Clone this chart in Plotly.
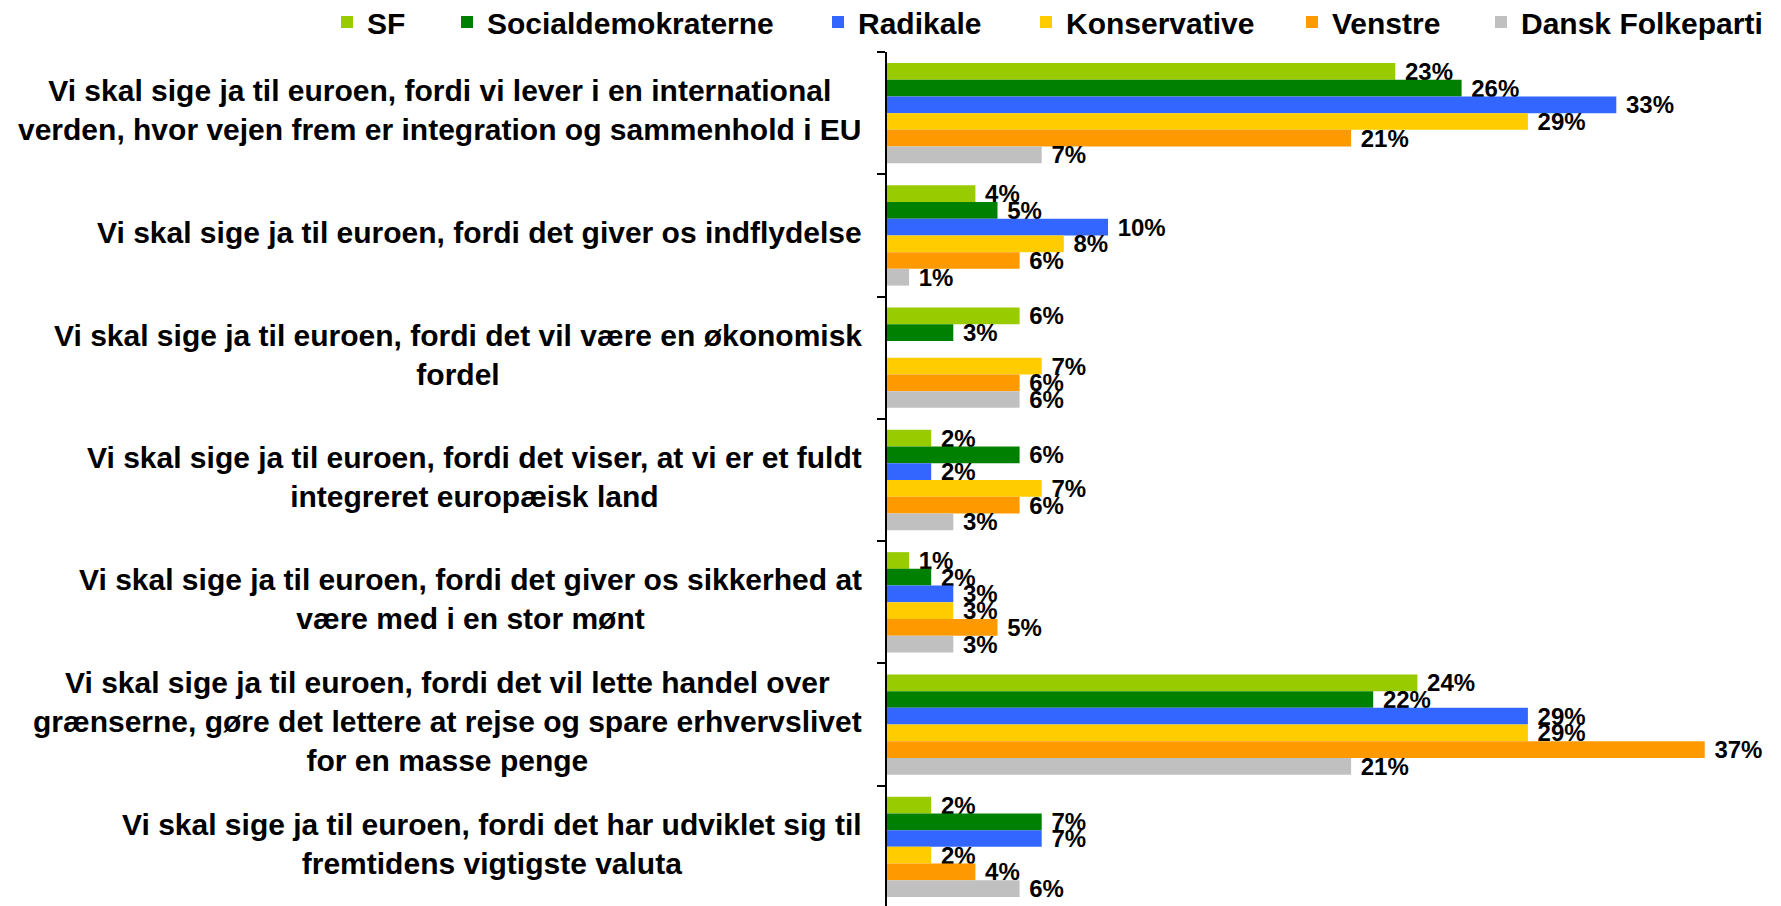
import plotly.graph_objects as go

categories = [
    "Vi skal sige ja til euroen, fordi vi lever i en international<br>verden, hvor vejen frem er integration og sammenhold i EU",
    "Vi skal sige ja til euroen, fordi det giver os indflydelse",
    "Vi skal sige ja til euroen, fordi det vil være en økonomisk<br>fordel",
    "Vi skal sige ja til euroen, fordi det viser, at vi er et fuldt<br>integreret europæisk land",
    "Vi skal sige ja til euroen, fordi det giver os sikkerhed at<br>være med i en stor mønt",
    "Vi skal sige ja til euroen, fordi det vil lette handel over<br>grænserne, gøre det lettere at rejse og spare erhvervslivet<br>for en masse penge",
    "Vi skal sige ja til euroen, fordi det har udviklet sig til<br>fremtidens vigtigste valuta",
]

series_names = ["SF", "Socialdemokraterne", "Radikale", "Konservative", "Venstre", "Dansk Folkeparti"]

sf = [23, 4, 6, 2, 1, 24, 2]
socialdemokraterne = [26, 5, 3, 6, 2, 22, 7]
radikale = [33, 10, None, 2, 3, 29, 7]
konservative = [29, 8, 7, 7, 3, 29, 2]
venstre = [21, 6, 6, 6, 5, 37, 4]
dansk_folkeparti = [7, 1, 6, 3, 3, 21, 6]

series_values = [sf, socialdemokraterne, radikale, konservative, venstre, dansk_folkeparti]
colors = ["#99CC00", "#008000", "#3366FF", "#FFCC00", "#FF9900", "#C0C0C0"]

# page body has an 8px margin, so figure coords = page coords - 8
OFF = 8
W, H = 1781, 906
ML, MR, MT, MB = 887 - OFF, 2, 52 - OFF, 6
plot_w = W - ML - MR
plot_h = H - MT - MB

FONT = "Liberation Sans, Arial, Helvetica, sans-serif"

# legend symbol centres (page px) and vertical centre
legend_centers = [352, 472, 843, 1051, 1317, 1506]
legend_y_px = 22

fig = go.Figure()
for i, (name, vals, col) in enumerate(zip(series_names, series_values, colors)):
    fig.add_trace(go.Bar(
        y=categories, x=vals, name=name, orientation="h",
        marker=dict(color=col, line=dict(width=0)),
        texttemplate=" %{x}%", textposition="outside",
        textfont=dict(family=FONT, size=24, color="black", weight="bold"),
        constraintext="none", cliponaxis=False,
        legend="legend" if i == 0 else f"legend{i+1}",
        showlegend=True,
        hoverinfo="skip",
    ))

legends = {}
for i, c in enumerate(legend_centers):
    key = "legend" if i == 0 else f"legend{i+1}"
    legends[key] = dict(
        x=(c - OFF - 25 - ML) / plot_w, xanchor="left",
        y=1 + (MT - (legend_y_px - OFF)) / plot_h, yanchor="middle",
        orientation="h", bgcolor="rgba(0,0,0,0)",
        font=dict(family=FONT, size=30, color="black", weight="bold"),
    )

for cat in categories:
    fig.add_annotation(
        x=0, xref="paper", y=cat, yref="y", xanchor="right", xshift=-23, yshift=3,
        text=cat, showarrow=False, align="center",
        font=dict(family=FONT, size=30, color="black", weight="bold"),
    )

# x range so that 1% = ~22.1 px
x_max = plot_w / 22.1

fig.update_layout(
    width=W, height=H,
    margin=dict(l=ML, r=MR, t=MT, b=MB, pad=0, autoexpand=False),
    showlegend=True,
    barmode="group", bargap=0.18, bargroupgap=0,
    plot_bgcolor="white", paper_bgcolor="white",
    font=dict(family=FONT, color="black"),
    **legends,
)
fig.update_xaxes(visible=False, range=[0, x_max], showgrid=False, zeroline=False)
fig.update_yaxes(
    range=[6.5, -0.5], showticklabels=False, showgrid=False, zeroline=False,
    showline=True, linecolor="black", linewidth=2,
    ticks="outside", ticklen=8, tickwidth=2, tickcolor="black", tickson="boundaries",
)

fig.write_html("out.html")
